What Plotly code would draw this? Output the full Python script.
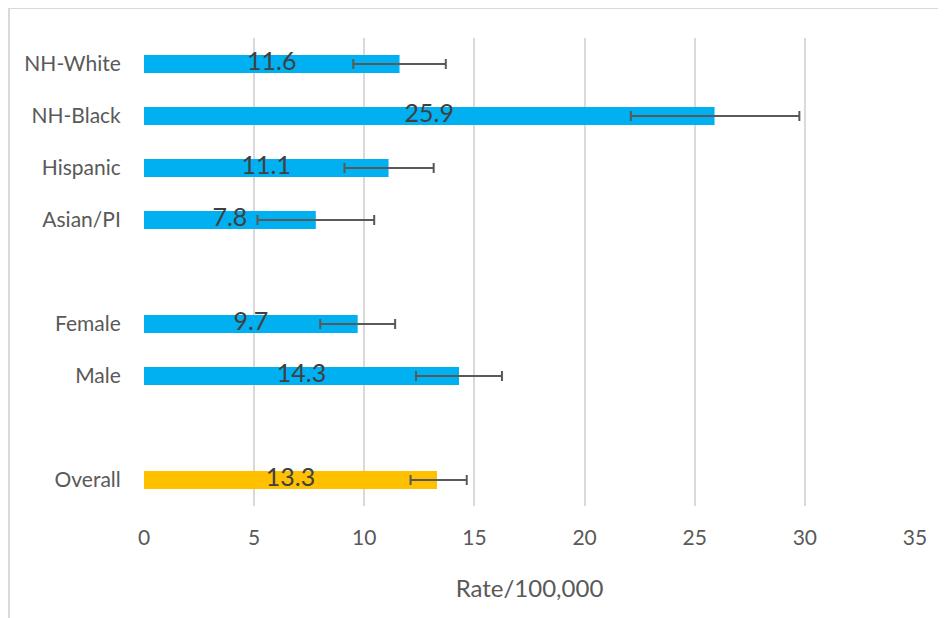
import plotly.graph_objects as go

categories = ["NH-White", "NH-Black", "Hispanic", "Asian/PI", " ", "Female", "Male", "  ", "Overall"]
bar_cats = ["NH-White", "NH-Black", "Hispanic", "Asian/PI", "Female", "Male", "Overall"]
rates = [11.6, 25.9, 11.1, 7.8, 9.7, 14.3, 13.3]
ci_low = [9.5, 22.1, 9.1, 5.15, 8.0, 12.35, 12.1]
ci_high = [13.7, 29.75, 13.15, 10.45, 11.4, 16.25, 14.65]
bar_colors = ["#00B0F0"] * 6 + ["#FFC000"]
x_ticks = [0, 5, 10, 15, 20, 25, 30, 35]

FONT = "Lato, Open Sans, sans-serif"

fig = go.Figure()
fig.add_trace(go.Bar(
    x=rates, y=bar_cats, orientation="h",
    marker=dict(color=bar_colors, line=dict(width=0)),
    width=0.35,
    error_x=dict(type="data", symmetric=False,
                 array=[h - r for h, r in zip(ci_high, rates)],
                 arrayminus=[r - l for l, r in zip(ci_low, rates)],
                 color="#595959", thickness=2, width=5),
    hoverinfo="skip", showlegend=False,
))
fig.add_trace(go.Scatter(
    x=[r / 2 for r in rates], y=bar_cats, mode="text",
    text=[f"{r:.1f}" for r in rates],
    textfont=dict(family=FONT, size=25, color="#404040"),
    textposition="middle center", showlegend=False, hoverinfo="skip",
    cliponaxis=False,
))

fig.update_layout(
    width=946, height=618,
    margin=dict(l=136, r=39, t=30, b=120),
    paper_bgcolor="white", plot_bgcolor="white",
    font=dict(family=FONT, color="#595959", size=21),
    xaxis=dict(range=[0, 35], tickvals=x_ticks, showgrid=True,
               gridcolor="#D9D9D9", gridwidth=1.5, zeroline=False,
               showline=False, ticks="outside", ticklen=13,
               tickcolor="rgba(0,0,0,0)",
               tickfont=dict(size=21, color="#595959"),
               title=dict(text="Rate/100,000", standoff=31,
                          font=dict(size=24, color="#595959"))),
    yaxis=dict(type="category", categoryorder="array", categoryarray=categories,
               autorange="reversed", showgrid=False, zeroline=False,
               showline=False, ticks="outside", ticklen=18,
               tickcolor="rgba(0,0,0,0)",
               tickfont=dict(size=21, color="#595959")),
    shapes=[
        dict(type="line", xref="paper", yref="paper",
             x0=-0.1751, x1=1.06, y0=1.0641, y1=1.0641,
             line=dict(color="#D9D9D9", width=2)),
        dict(type="line", xref="paper", yref="paper",
             x0=-0.1751, x1=-0.1751, y0=1.0641, y1=-0.3,
             line=dict(color="#D9D9D9", width=2)),
    ],
)

fig.write_html("out.html")
